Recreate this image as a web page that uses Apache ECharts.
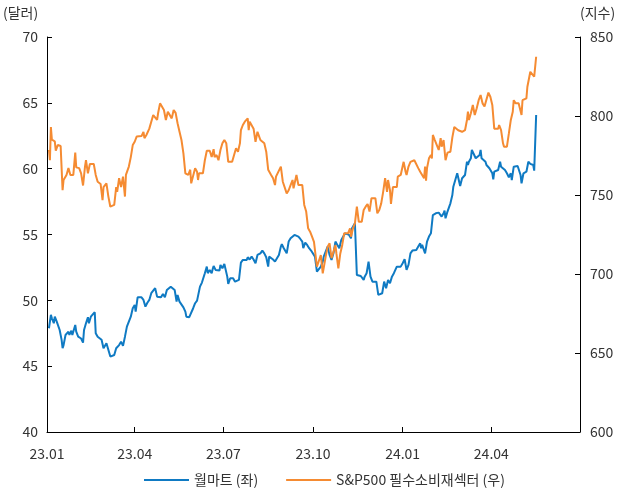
<!DOCTYPE html>
<html>
<head>
<meta charset="utf-8">
<script src="https://cdn.jsdelivr.net/npm/echarts@6/dist/echarts.min.js"></script>
<style>
  html, body { margin: 0; padding: 0; background: #fff; }
  #chart { width: 629px; height: 494px; }
</style>
</head>
<body>
<div id="chart"></div>
<script>
// x = 2023-01-01 부터 경과일수
var tickDays = [0, 90, 181, 273, 365, 456, 547];
var tickLabels = ['23.01', '23.04', '23.07', '23.10', '24.01', '24.04', ''];

var seriesNames = ['월마트 (좌)', 'S&P500 필수소비재섹터 (우)'];

// 월마트 (달러)
var walmartDay = [2,3,4,5,7,8,10,12,13,15,16,17,19,22,23,25,26,28,29,30,32,35,37,38,40,42,43,45,47,49,50,52,54,56,57,58,61,63,64,65,67,
  69,71,72,74,75,76,78,80,82,84,86,88,90,91,93,95,97,99,101,103,105,107,109,111,113,115,117,119,121,123,125,127,129,131,133,134,136,138,140,142,143,
  144,146,148,150,152,154,156,157,159,160,162,164,165,167,169,170,171,173,175,177,178,180,182,184,185,186,188,189,191,193,195,197,199,201,203,205,206,208,210,212,
  214,216,219,221,223,225,227,228,230,232,234,236,238,240,241,243,245,246,248,250,252,254,256,258,260,262,263,265,267,269,271,273,275,277,279,281,283,
  284,286,288,290,292,294,296,298,300,302,304,306,308,310,312,313,315,316,317,318,320,322,325,326,328,330,332,334,336,338,340,342,344,346,348,350,352,354,356,358,
  359,361,363,365,367,369,371,373,375,377,379,381,383,384,385,387,388,390,392,394,395,396,398,399,400,402,403,405,407,408,409,411,413,414,416,417,418,419,421,423,424,426,429,
  431,432,433,435,436,438,440,442,444,445,446,448,450,451,453,454,455,457,458,459,461,463,465,466,468,470,472,474,476,477,479,480,481,483,485,486,487,489,490,492,493,494,496,498,499,500,502];
var walmartPrice = [47.88,47.75,48.9,48.64,48.26,48.76,48.38,48.38,47.75,47.0,46.36,46.6,47.37,47.62,47.37,47.7,47.37,47.5,48.13,47.62,47.24,47.1,46.79,47.75,48.26,48.72,48.26,48.76,48.76,49.1,47.5,47.24,47.37,47.0,47.1,46.36,46.74,46.6,45.98,45.73,45.68,
  45.85,46.36,46.23,46.6,46.48,46.86,46.54,47.24,48.0,48.06,48.76,49.4,49.65,49.14,50.23,50.28,50.23,50.03,49.52,49.82,50.03,50.54,50.66,50.92,50.28,50.41,50.23,50.49,50.23,50.79,50.84,51.04,51.04,50.79,49.9,50.41,49.9,49.78,49.47,49.14,48.76,
  48.81,48.72,48.76,49.4,49.78,49.98,50.03,51.04,51.35,51.42,52.06,52.56,52.06,52.31,52.06,52.36,52.61,52.31,52.44,52.26,52.69,52.44,52.76,52.69,51.8,51.25,51.68,51.55,51.68,51.42,51.55,51.55,52.86,53.07,53.14,53.07,53.27,53.1,53.32,53.1,
  52.82,53.45,53.57,53.78,53.57,53.27,52.56,53.32,53.2,53.1,52.94,53.2,53.45,54.08,54.26,53.96,54.08,53.57,54.46,54.71,54.84,54.97,55.09,54.84,54.66,54.46,53.96,54.38,54.21,53.96,53.78,53.83,53.32,52.18,52.06,52.56,52.94,
  53.32,53.7,54.08,53.45,53.07,53.57,54.46,54.21,53.96,54.59,54.84,55.09,55.04,54.97,54.71,55.47,55.6,55.85,55.85,51.93,51.8,51.85,51.55,51.8,52.06,52.94,51.8,51.42,51.55,51.42,50.41,50.33,50.54,51.42,50.92,51.55,51.3,51.8,52.06,52.18,
  52.56,52.56,52.56,52.82,53.12,52.31,52.69,53.57,53.78,53.78,53.83,54.08,54.33,53.96,54.21,54.25,53.57,54.46,54.84,55.09,55.22,56.48,56.48,56.61,56.48,56.66,56.56,56.36,56.61,56.81,56.23,56.74,56.86,57.37,58.0,58.63,58.51,59.14,59.65,59.65,58.69,59.27,59.52,
  60.53,60.28,60.53,60.79,61.42,61.29,60.79,60.91,61.04,61.42,60.79,60.71,60.53,60.28,60.41,60.03,60.03,59.65,59.19,59.77,59.77,59.9,60.53,60.15,60.03,59.9,59.65,59.35,59.65,59.14,60.15,60.15,60.28,60.2,60.15,59.52,58.89,59.65,59.77,59.77,59.9,60.53,60.36,60.41,60.28,59.85,64.08];

// S&P500 필수소비재섹터 (지수)
var staplesDay = [2,3,4,5,8,9,11,14,16,17,20,22,24,27,29,30,33,35,37,39,40,42,44,48,50,52,55,57,58,61,63,65,67,
  69,71,72,74,76,78,80,81,84,86,88,90,92,94,97,99,100,102,105,107,109,111,113,114,116,118,120,122,124,125,128,130,132,134,136,138,140,142,
  145,147,148,150,152,154,155,156,158,160,162,164,167,169,171,172,174,176,178,180,182,184,186,188,190,192,194,196,198,199,201,203,206,207,208,210,212,
  214,216,219,221,223,225,227,229,230,232,234,235,237,240,242,244,246,248,250,252,253,256,258,260,262,264,266,268,270,272,274,276,277,279,281,283,
  286,288,290,292,294,296,297,299,301,303,305,307,309,311,312,314,316,318,320,323,325,327,329,331,333,335,337,339,341,343,345,347,349,350,352,353,355,357,
  359,360,363,365,366,368,369,371,373,375,377,379,381,383,385,387,388,389,390,392,394,395,396,398,400,402,404,405,407,409,411,414,416,418,420,422,424,426,429,
  431,432,433,435,437,439,441,443,445,447,449,451,453,455,457,459,461,463,464,466,468,469,471,472,474,476,478,479,481,482,484,485,487,488,490,492,493,494,496,498,500,501,502];
var staplesIndex = [778.5,772,793,785,784,778,781.6,781,753,759.5,762.7,767,762.7,762.7,776.8,767.5,767,763.7,756,768,772,763.7,769.6,769.6,762.7,758.4,757,746.8,755,757.4,749,742.6,743.7,
  743.7,755,752,760.6,755,761.6,749,762.7,768,774,781.6,783.7,787,788,787.3,790,786,788,792,793,800.6,801.7,797.5,801.7,808,808.4,803.8,797.5,802.7,801.7,798.5,803.8,802,795.4,790,784.8,776.4,763.7,
  762.7,766,757.4,757.4,767,764.7,759.5,763.7,762.7,763.7,772,778,778,774,779,774,775.3,772,778.5,782.7,784.8,782.7,771,770,771,775.3,779.6,777.4,782.7,791,794.3,796.4,798.5,791,796.4,795.4,792,
  783.7,790,784.8,785,782.7,777.4,766,766,762.7,760.6,756.3,761.6,762.7,768,758.4,757.4,751,753,756.3,759.5,754.2,762.7,756.3,757.4,756.3,743.7,739.5,728.9,726.8,723.6,720.4,721.5,704.6,704.6,712,700.4,
  711,717.3,719.4,710,708.9,718.4,713,703.6,713,718.4,725.8,726.8,725.8,728.9,723.6,728.9,732,742.6,733,733,740.5,742.6,744.3,739.5,748,749,748,738.4,740.5,744.7,752,760.6,752,759.5,753,744.3,755,754.2,
  755,761.6,762.7,762.7,771,764.7,762.7,768,771,770,772,771.7,767,764.7,762.7,760.6,768,759,767,773.2,775.3,773.2,788,784.8,783.7,778.5,786,780.6,784.8,772,776.8,777.4,786.5,793,792,791,790,790,791,
  797.5,802.7,797.5,801.7,807,800.6,804.9,810,813.3,808,806,807,814.8,812.2,807,792,792,792,794.3,791,782.7,780.6,779.6,780.6,789,797.5,802.7,810,808,809,808,807.6,800.6,810,810.6,811.2,818.5,817.5,828,827,824.9,824.9,837.5];

function pairs(xs, ys) {
  var out = [];
  for (var i = 0; i < xs.length; i++) out.push([xs[i], ys[i]]);
  return out;
}

var myChart = echarts.init(document.getElementById('chart'));
var fontFamily = '"Noto Sans CJK KR", sans-serif';
var textColor = '#333';

var option = {
  animation: false,
  grid: { left: 47, right: 49, top: 37, bottom: 62 },
  graphic: [
    { type: 'text', left: 3, top: 6, style: { text: '(달러)', fill: textColor, font: '14px "Noto Sans CJK KR"' } },
    { type: 'text', left: 580, top: 6, style: { text: '(지수)', fill: textColor, font: '14px "Noto Sans CJK KR"' } }
  ],
  legend: {
    bottom: 2,
    left: 139,
    itemWidth: 45,
    itemHeight: 2,
    itemGap: 28,
    icon: 'rect',
    textStyle: { color: textColor, fontSize: 14, fontFamily: fontFamily },
    data: seriesNames
  },
  xAxis: {
    type: 'value',
    min: 0,
    max: 547,
    splitLine: { show: false },
    axisLine: { lineStyle: { color: '#000', width: 1 } },
    axisTick: { inside: true, length: 5, lineStyle: { color: '#000' }, customValues: tickDays },
    axisLabel: {
      margin: 15,
      customValues: tickDays.slice(0, 6),
      color: textColor, fontSize: 14, fontFamily: fontFamily,
      formatter: function (v) { return tickLabels[tickDays.indexOf(v)]; }
    }
  },
  yAxis: [
    {
      type: 'value', min: 40, max: 70, interval: 5,
      splitLine: { show: false },
      axisLine: { show: true, lineStyle: { color: '#000' } },
      axisTick: { show: true, inside: true, length: 5, lineStyle: { color: '#000' } },
      axisLabel: { margin: 9, color: textColor, fontSize: 14, fontFamily: fontFamily }
    },
    {
      type: 'value', min: 600, max: 850, interval: 50,
      splitLine: { show: false },
      axisLine: { show: true, lineStyle: { color: '#000' } },
      axisTick: { show: true, inside: true, length: 5, lineStyle: { color: '#000' } },
      axisLabel: { margin: 10, color: textColor, fontSize: 14, fontFamily: fontFamily }
    }
  ],
  series: [
    {
      name: seriesNames[0],
      type: 'line',
      yAxisIndex: 0,
      showSymbol: false,
      lineStyle: { color: '#0F7AC3', width: 2 },
      itemStyle: { color: '#0F7AC3' },
      data: pairs(walmartDay, walmartPrice)
    },
    {
      name: seriesNames[1],
      type: 'line',
      yAxisIndex: 1,
      showSymbol: false,
      lineStyle: { color: '#F58B32', width: 2 },
      itemStyle: { color: '#F58B32' },
      data: pairs(staplesDay, staplesIndex)
    }
  ]
};
myChart.setOption(option);
</script>
</body>
</html>
